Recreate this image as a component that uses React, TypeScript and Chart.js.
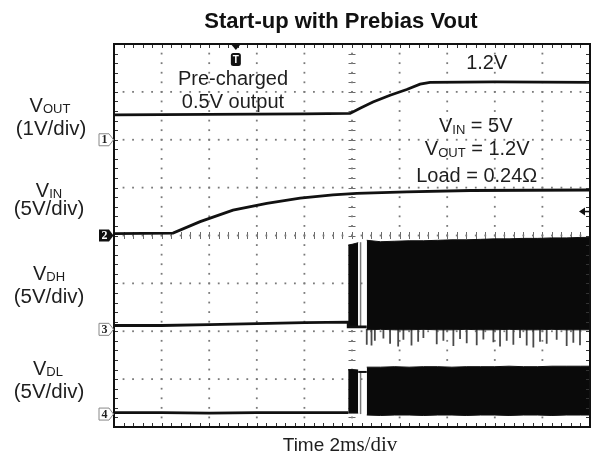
import React, { useEffect, useRef } from "react";
import { Chart, registerables } from "chart.js";

Chart.register(...registerables);

// Screen: 10 horizontal divisions (2 ms/div), 8 vertical divisions
const TIME_DIVS = 10;
const VOLT_DIVS = 8;

// VOUT trace (1 V/div), in divisions
const voutX = [0, 2, 4, 4.96, 5.17, 5.44, 5.8, 6.15, 6.43, 6.64, 8, 10];
const voutY = [6.52, 6.53, 6.54, 6.55, 6.66, 6.79, 6.93, 7.05, 7.16, 7.2, 7.21, 7.2];

// VIN trace (5 V/div)
const vinX = [0, 1.24, 1.81, 2.5, 3.21, 3.91, 4.6, 5.1, 6.15, 7.48, 10];
const vinY = [4.04, 4.05, 4.29, 4.53, 4.67, 4.78, 4.85, 4.88, 4.91, 4.94, 4.95];

// VDH trace (5 V/div): baseline before switching, then low level in the pause
const vdhX = [0, 1, 2, 3, 4, 4.92, 4.92, 5.31];
const vdhY = [2.12, 2.12, 2.14, 2.16, 2.18, 2.19, 2.09, 2.09];
// first switching burst envelope
const vdhBurstX = [4.92, 5.02, 5.13];
const vdhBurstTop = [3.8, 3.82, 3.85];
const vdhBurstBottom = [2.09, 2.09, 2.09];
// continuous switching envelope
const bandX = [5.31, 5.6, 5.9, 6.2, 6.5, 6.8, 7.1, 7.4, 7.7, 8.0, 8.3, 8.6, 8.9, 9.2, 9.5, 9.8, 10];
const vdhBandTop = [3.9, 3.87, 3.88, 3.89, 3.89, 3.9, 3.91, 3.91, 3.92, 3.93, 3.93, 3.94, 3.94, 3.95, 3.95, 3.96, 3.96];
const vdhBandBottom = [2.03, 2.04, 2.03, 2.03, 2.04, 2.03, 2.03, 2.04, 2.03, 2.03, 2.04, 2.03, 2.03, 2.04, 2.03, 2.03, 2.03];
// ringing spikes below the VDH band
const spikeX = [5.31, 5.41, 5.48, 5.66, 5.8, 5.97, 6.08, 6.25, 6.39, 6.5, 6.78, 6.92, 7.13, 7.27, 7.41, 7.62, 7.76, 7.97, 8.11, 8.25, 8.39, 8.53, 8.67, 8.81, 8.95, 9.09, 9.3, 9.51, 9.65, 9.79];
const spikeLow = [1.72, 1.7, 1.8, 1.85, 1.74, 1.68, 1.82, 1.7, 1.78, 1.86, 1.73, 1.8, 1.69, 1.84, 1.75, 1.71, 1.83, 1.77, 1.68, 1.8, 1.72, 1.86, 1.7, 1.66, 1.78, 1.74, 1.82, 1.69, 1.76, 1.71];
const vdhPauseEdgeX = [5.18, 5.18];
const vdhPauseEdgeY = [2.09, 3.86];

// VDL trace (5 V/div)
const vdlX = [0, 1, 2, 3, 4, 4.92];
const vdlY = [0.3, 0.3, 0.29, 0.3, 0.3, 0.3];
const vdlBurstX = [4.92, 5.02, 5.13];
const vdlBurstTop = [1.2, 1.2, 1.19];
const vdlBurstBottom = [0.29, 0.29, 0.29];
const vdlPauseX = [5.13, 5.31];
const vdlPauseY = [1.15, 1.15];
const vdlPauseEdgeX = [5.18, 5.18];
const vdlPauseEdgeY = [0.27, 1.15];
const vdlBandTop = [1.25, 1.25, 1.26, 1.25, 1.26, 1.26, 1.25, 1.26, 1.26, 1.26, 1.27, 1.26, 1.26, 1.27, 1.27, 1.27, 1.27];
const vdlBandBottom = [0.25, 0.24, 0.25, 0.25, 0.24, 0.25, 0.25, 0.24, 0.25, 0.25, 0.24, 0.25, 0.25, 0.24, 0.25, 0.25, 0.25];

// Channel ground markers (divisions) and trigger positions
const channelMarkers = [
  { label: "1", level: 6.0, filled: false },
  { label: "2", level: 4.0, filled: true },
  { label: "3", level: 2.04, filled: false },
  { label: "4", level: 0.27, filled: false },
];
const triggerTime = 2.56;
const triggerLevel = 4.5;

const pts = (xs: number[], ys: number[]) => xs.map((x, i) => ({ x, y: ys[i] }));

const SANS = '"Liberation Sans", Arial, Helvetica, sans-serif';
const SERIF = '"Liberation Serif", "Times New Roman", serif';

type Part = { t: string; size: number; dy?: number; family?: string; bold?: boolean };

function drawParts(ctx: CanvasRenderingContext2D, parts: Part[], cx: number, base: number, color = "#1e1e1e") {
  const fontOf = (p: Part) => `${p.bold ? "bold " : ""}${p.size}px ${p.family ?? SANS}`;
  let w = 0;
  for (const p of parts) {
    ctx.font = fontOf(p);
    w += ctx.measureText(p.t).width;
  }
  let xx = cx - w / 2;
  ctx.fillStyle = color;
  ctx.textAlign = "left";
  ctx.textBaseline = "alphabetic";
  for (const p of parts) {
    ctx.font = fontOf(p);
    ctx.fillText(p.t, xx, base + (p.dy ?? 0));
    xx += ctx.measureText(p.t).width;
  }
}

const scopeDecor = {
  id: "scopeDecor",
  beforeDatasetsDraw(chart: any) {
    const { ctx, scales } = chart;
    const x = scales.x;
    const y = scales.y;
    ctx.save();
    // dotted graticule
    ctx.fillStyle = "#7a7a7a";
    for (let i = 1; i < TIME_DIVS; i++) {
      if (i === TIME_DIVS / 2) continue;
      const px = x.getPixelForValue(i);
      for (let j = 0; j <= VOLT_DIVS * 5; j++) {
        const py = y.getPixelForValue(j / 5);
        ctx.fillRect(px - 0.9, py - 0.9, 1.8, 1.8);
      }
    }
    for (let i = 1; i < VOLT_DIVS; i++) {
      if (i === VOLT_DIVS / 2) continue;
      const py = y.getPixelForValue(i);
      for (let j = 0; j <= TIME_DIVS * 5; j++) {
        const px = x.getPixelForValue(j / 5);
        ctx.fillRect(px - 0.9, py - 0.9, 1.8, 1.8);
      }
    }
    // center axes with minor ticks
    const cx = x.getPixelForValue(TIME_DIVS / 2);
    const cy = y.getPixelForValue(VOLT_DIVS / 2);
    ctx.strokeStyle = "#6a6a6a";
    ctx.lineWidth = 1;
    ctx.beginPath();
    for (let j = 0; j <= VOLT_DIVS * 5; j++) {
      const py = Math.round(y.getPixelForValue(j / 5)) + 0.5;
      ctx.moveTo(cx - 3.5, py);
      ctx.lineTo(cx + 3.5, py);
    }
    for (let j = 0; j <= TIME_DIVS * 5; j++) {
      const px = Math.round(x.getPixelForValue(j / 5)) + 0.5;
      ctx.moveTo(px, cy - 3.5);
      ctx.lineTo(px, cy + 3.5);
    }
    ctx.stroke();
    ctx.fillStyle = "#7a7a7a";
    for (let j = 0; j <= VOLT_DIVS * 5; j++) {
      ctx.fillRect(cx - 0.9, y.getPixelForValue(j / 5) - 0.9, 1.8, 1.8);
    }
    for (let j = 0; j <= TIME_DIVS * 5; j++) {
      ctx.fillRect(x.getPixelForValue(j / 5) - 0.9, cy - 0.9, 1.8, 1.8);
    }
    ctx.restore();
  },
  afterDatasetsDraw(chart: any) {
    const { ctx, chartArea: a, scales } = chart;
    const x = scales.x;
    const y = scales.y;
    ctx.save();
    // edge ticks
    ctx.strokeStyle = "#333";
    ctx.lineWidth = 1;
    ctx.beginPath();
    for (let j = 1; j < TIME_DIVS * 5; j++) {
      const px = Math.round(x.getPixelForValue(j / 5)) + 0.5;
      ctx.moveTo(px, a.top);
      ctx.lineTo(px, a.top + 4);
      ctx.moveTo(px, a.bottom);
      ctx.lineTo(px, a.bottom - 4);
    }
    for (let j = 1; j < VOLT_DIVS * 5; j++) {
      const py = Math.round(y.getPixelForValue(j / 5)) + 0.5;
      ctx.moveTo(a.left, py);
      ctx.lineTo(a.left + 4, py);
      ctx.moveTo(a.right, py);
      ctx.lineTo(a.right - 4, py);
    }
    ctx.stroke();
    // frame
    ctx.strokeStyle = "#111";
    ctx.lineWidth = 2;
    ctx.strokeRect(a.left, a.top, a.right - a.left, a.bottom - a.top);

    // channel markers
    for (const m of channelMarkers) {
      const py = y.getPixelForValue(m.level);
      const l = a.left - 15;
      ctx.beginPath();
      ctx.moveTo(l, py - 6);
      ctx.lineTo(a.left - 5, py - 6);
      ctx.lineTo(a.left - 0.5, py);
      ctx.lineTo(a.left - 5, py + 6);
      ctx.lineTo(l, py + 6);
      ctx.closePath();
      if (m.filled) {
        ctx.fillStyle = "#111";
        ctx.fill();
      } else {
        ctx.fillStyle = "#fff";
        ctx.fill();
        ctx.strokeStyle = "#888";
        ctx.lineWidth = 1;
        ctx.stroke();
      }
      ctx.font = `bold 12px ${SERIF}`;
      ctx.textAlign = "center";
      ctx.textBaseline = "middle";
      ctx.fillStyle = m.filled ? "#fff" : "#222";
      ctx.fillText(m.label, l + 5.5, py + 0.5);
    }

    // trigger time marker
    const tx = x.getPixelForValue(triggerTime);
    ctx.fillStyle = "#111";
    ctx.beginPath();
    ctx.moveTo(tx - 5, a.top);
    ctx.lineTo(tx + 5, a.top);
    ctx.lineTo(tx, a.top + 6);
    ctx.closePath();
    ctx.fill();
    ctx.beginPath();
    const bx = tx - 5, by = a.top + 9, bw = 10, bh = 13, r = 2.5;
    ctx.moveTo(bx + r, by);
    ctx.lineTo(bx + bw - r, by);
    ctx.quadraticCurveTo(bx + bw, by, bx + bw, by + r);
    ctx.lineTo(bx + bw, by + bh - r);
    ctx.quadraticCurveTo(bx + bw, by + bh, bx + bw - r, by + bh);
    ctx.lineTo(bx + r, by + bh);
    ctx.quadraticCurveTo(bx, by + bh, bx, by + bh - r);
    ctx.lineTo(bx, by + r);
    ctx.quadraticCurveTo(bx, by, bx + r, by);
    ctx.fill();
    ctx.fillStyle = "#fff";
    ctx.font = `bold 10px ${SANS}`;
    ctx.textAlign = "center";
    ctx.textBaseline = "middle";
    ctx.fillText("T", tx, by + bh / 2 + 0.5);

    // trigger level marker
    const ty = y.getPixelForValue(triggerLevel);
    ctx.fillStyle = "#111";
    ctx.beginPath();
    ctx.moveTo(a.right - 11, ty);
    ctx.lineTo(a.right - 5, ty - 4);
    ctx.lineTo(a.right - 5, ty + 4);
    ctx.closePath();
    ctx.fill();
    ctx.fillRect(a.right - 6, ty - 0.75, 6, 1.5);

    // annotations inside the screen
    const X = (v: number) => x.getPixelForValue(v);
    const Y = (v: number) => y.getPixelForValue(v);
    drawParts(ctx, [{ t: "Pre-charged", size: 20 }], X(2.5), Y(7.14));
    drawParts(ctx, [{ t: "0.5V output", size: 20 }], X(2.5), Y(6.66));
    drawParts(ctx, [{ t: "1.2V", size: 20 }], X(7.83), Y(7.47));
    drawParts(ctx, [{ t: "V", size: 20 }, { t: "IN", size: 13, dy: 2 }, { t: " = 5V", size: 20 }], X(7.6), Y(6.17));
    drawParts(ctx, [{ t: "V", size: 20 }, { t: "OUT", size: 13, dy: 2 }, { t: " = 1.2V", size: 20 }], X(7.63), Y(5.68));
    drawParts(ctx, [{ t: "Load = 0.24Ω", size: 20 }], X(7.62), Y(5.12));

    // labels outside the screen
    const LX = 50;
    drawParts(ctx, [{ t: "V", size: 20 }, { t: "OUT", size: 13, dy: 1 }], LX, 111.5);
    drawParts(ctx, [{ t: "(1V/div)", size: 20.5 }], LX + 1, 135);
    drawParts(ctx, [{ t: "V", size: 20 }, { t: "IN", size: 13, dy: 1 }], LX - 1, 196.5);
    drawParts(ctx, [{ t: "(5V/div)", size: 20.5 }], LX - 1, 215);
    drawParts(ctx, [{ t: "V", size: 20 }, { t: "DH", size: 13, dy: 1 }], LX - 1, 280);
    drawParts(ctx, [{ t: "(5V/div)", size: 20.5 }], LX - 1, 303);
    drawParts(ctx, [{ t: "V", size: 20 }, { t: "DL", size: 13, dy: 1 }], LX - 2, 375);
    drawParts(ctx, [{ t: "(5V/div)", size: 20.5 }], LX - 1, 398);

    drawParts(ctx, [{ t: "Start-up with Prebias Vout", size: 22, bold: true }], 341, 28, "#111");
    drawParts(ctx, [{ t: "Time 2", size: 19 }, { t: "ms/div", size: 21, family: SERIF }], 340, 451);
    ctx.restore();
  },
};

const line = (data: any[], color = "#111", width = 2.8) => ({
  data,
  borderColor: color,
  borderWidth: width,
  pointRadius: 0,
  fill: false,
  tension: 0,
});

const band = (data: any[]) => ({
  data,
  borderColor: "#111",
  borderWidth: 1,
  pointRadius: 0,
  fill: "-1",
  backgroundColor: "#0a0a0a",
  tension: 0,
});

export default function App() {
  const ref = useRef<HTMLCanvasElement | null>(null);
  useEffect(() => {
    if (!ref.current) return;
    const spikes: any[] = [];
    spikeX.forEach((sx, i) => {
      spikes.push({ x: sx, y: 2.05 }, { x: sx, y: spikeLow[i] }, { x: sx, y: null });
    });
    const chart = new Chart(ref.current, {
      type: "line",
      data: {
        datasets: [
          line(pts(voutX, voutY)),
          line(pts(vinX, vinY)),
          line(pts(vdhX, vdhY)),
          line(pts(vdhBurstX, vdhBurstBottom), "#111", 1),
          band(pts(vdhBurstX, vdhBurstTop)),
          line(pts(bandX, vdhBandBottom), "#111", 1),
          band(pts(bandX, vdhBandTop)),
          line(spikes, "#4a4a4a", 1.8),
          line(pts(vdhPauseEdgeX, vdhPauseEdgeY), "#777", 1.5),
          line(pts(vdlX, vdlY)),
          line(pts(vdlBurstX, vdlBurstBottom), "#111", 1),
          band(pts(vdlBurstX, vdlBurstTop)),
          line(pts(vdlPauseX, vdlPauseY), "#111", 2),
          line(pts(vdlPauseEdgeX, vdlPauseEdgeY), "#777", 1.5),
          line(pts(bandX, vdlBandBottom), "#111", 1),
          band(pts(bandX, vdlBandTop)),
        ] as any,
      },
      options: {
        animation: false,
        responsive: false,
        events: [],
        layout: { padding: { left: 114, right: 5, top: 44, bottom: 33 } },
        plugins: { legend: { display: false }, tooltip: { enabled: false } },
        scales: {
          x: { type: "linear", min: 0, max: TIME_DIVS, display: false },
          y: { type: "linear", min: 0, max: VOLT_DIVS, display: false },
        },
        elements: { point: { radius: 0 } },
      },
      plugins: [scopeDecor as any],
    });
    return () => chart.destroy();
  }, []);
  return (
    <div style={{ position: "fixed", left: 0, top: 0, width: 595, height: 460, background: "#fff" }}>
      <canvas ref={ref} width={595} height={460} style={{ display: "block" }} />
    </div>
  );
}
